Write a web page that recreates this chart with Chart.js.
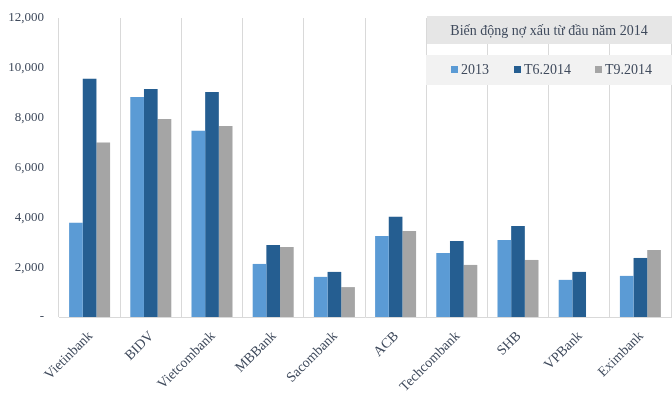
<!DOCTYPE html>
<html><head><meta charset="utf-8">
<script src="https://cdn.jsdelivr.net/npm/chart.js@4/dist/chart.umd.min.js"></script>
<style>html,body{margin:0;padding:0;background:#fff}#wrap{width:672px;height:398px}</style>
</head><body><div id="wrap"><canvas id="c" width="672" height="398"></canvas></div>
<script>
const categories = ["Vietinbank","BIDV","Vietcombank","MBBank","Sacombank","ACB","Techcombank","SHB","VPBank","Eximbank"];
const seriesNames = ["2013","T6.2014","T9.2014"];
const s2013 = [3780,8830,7470,2130,1610,3250,2570,3090,1490,1650];
const sT6 = [9560,9150,9030,2890,1810,4020,3050,3650,1810,2370];
const sT9 = [7000,7950,7670,2810,1200,3450,2090,2290,null,2690];
const yTicks = [0,2000,4000,6000,8000,10000,12000];
const chartTitle = "Biến động nợ xấu từ đầu năm 2014";
const colors = ["#5b9bd5","#255e91","#a5a5a5"];
const FONT = "'Liberation Serif', serif";
const TXT = "#3f4a5c";

const overlay = {
  id:'overlay',
  afterDraw(chart){
    const ctx = chart.ctx;
    ctx.save();
    ctx.fillStyle = '#e6e6e6';
    ctx.fillRect(427,16,245,28);
    ctx.fillStyle = '#f2f2f2';
    ctx.fillRect(426,55,246,30);
    ctx.fillStyle = TXT;
    ctx.font = "14px " + FONT;
    ctx.textAlign = 'center';
    ctx.textBaseline = 'middle';
    ctx.fillText(chartTitle, 549, 31);
    const xs = [451,514,595];
    ctx.textAlign = 'left';
    chart.data.datasets.forEach((ds,i)=>{
      ctx.fillStyle = ds.backgroundColor;
      ctx.fillRect(xs[i],66,7,7);
      ctx.fillStyle = TXT;
      ctx.fillText(ds.label, xs[i]+10, 70);
    });
    ctx.restore();
  }
};

new Chart(document.getElementById('c'), {
  type:'bar',
  data:{
    labels:categories,
    datasets:[s2013,sT6,sT9].map((d,i)=>({label:seriesNames[i],data:d,backgroundColor:colors[i],barPercentage:1,categoryPercentage:0.67}))
  },
  options:{
    responsive:false,animation:false,
    layout:{padding:{top:18,right:1,left:0,bottom:0}},
    plugins:{legend:{display:false},title:{display:false},tooltip:{enabled:false}},
    scales:{
      x:{
        grid:{display:true,color:'#d9d9d9',drawTicks:false,offset:true},
        border:{color:'#d9d9d9'},
        ticks:{color:TXT,font:{family:FONT,size:14},minRotation:45,maxRotation:45,padding:11,labelOffset:1},
        afterFit(s){s.height=81;}
      },
      y:{
        min:0,max:12000,
        grid:{display:false,drawTicks:false},
        border:{display:false},
        afterBuildTicks(s){s.ticks = yTicks.map(v=>({value:v}));},
        ticks:{color:TXT,font:{family:FONT,size:13},padding:15,callback:v=>v===0?'-':v.toLocaleString('en-US')},
        afterFit(s){s.width=59;s.paddingTop=18;s.paddingBottom=0;}
      }
    }
  },
  plugins:[overlay]
});
</script></body></html>
